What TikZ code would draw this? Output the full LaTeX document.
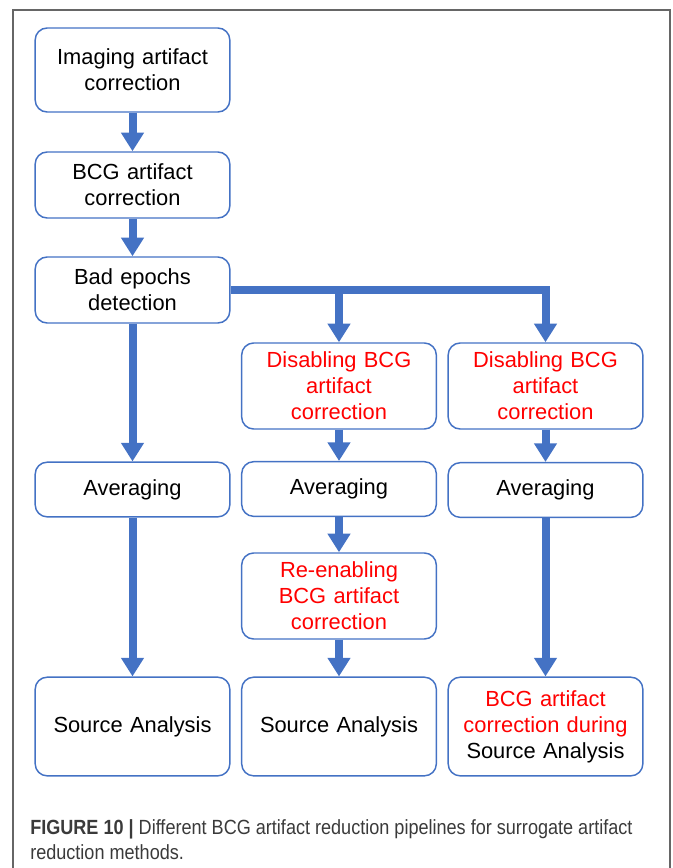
\documentclass[tikz,border=0pt]{standalone}
\usepackage{fontspec}
\setmainfont{Liberation Sans}
\newfontfamily\capfont[FakeStretch=0.88]{Liberation Sans}
\usepackage{xcolor}
\usetikzlibrary{arrows.meta}
\definecolor{flowblue}{HTML}{4472C4}
\definecolor{capgray}{HTML}{3A3A3A}

\begin{document}
\begin{tikzpicture}[x=0.75pt,y=-0.75pt,
  >={Triangle[width=16.5pt,length=14pt]},
  box/.style={draw=flowblue,line width=1.1pt,rounded corners=9pt,
    minimum width=146pt,text width=140pt,align=center,inner sep=0pt,
    font=\fontsize{16.4}{19.6}\selectfont},
  flow/.style={flowblue,line width=6pt}]
\useasboundingbox (0,0) rectangle (672,868);
\draw[gray!80!black,line width=0.8pt] (13,868) |- (670,10) -- (670,868);
% first column
\node[box,minimum height=63pt] (img) at (132.5,70) {Imaging artifact\\correction};
\node[box,minimum height=49.5pt] (bcg) at (132.5,185) {BCG artifact\\correction};
\node[box,minimum height=49.5pt] (bad) at (132.5,290) {Bad epochs\\detection};
\node[box,minimum height=41pt] (avgA) at (132.5,489.5) {Averaging};
\node[box,minimum height=74pt] (srcA) at (132.5,726.5) {Source Analysis};
% second column
\node[box,minimum height=64.5pt] (disA) at (339,386) {\color{red}Disabling BCG\\artifact\\correction};
\node[box,minimum height=41pt] (avgB) at (339,489) {Averaging};
\node[box,minimum height=64.5pt] (reen) at (339,596) {\color{red}Re-enabling\\BCG artifact\\correction};
\node[box,minimum height=74pt] (srcB) at (339,726.5) {Source Analysis};
% third column
\node[box,minimum height=64.5pt] (disB) at (545.5,386) {\color{red}Disabling BCG\\artifact\\correction};
\node[box,minimum height=41pt] (avgC) at (545.5,490) {Averaging};
\node[box,minimum height=74pt] (srcC) at (545.5,726.5) {{\color{red}BCG artifact\\correction during}\\Source Analysis};
% arrows
\draw[flow,->] (img) -- (bcg);
\draw[flow,->] (bcg) -- (bad);
\draw[flow,->] (bad) -- (avgA);
\draw[flow,->] (avgA) -- (srcA);
\draw[flow,->] (bad.east) -| (disB.north);
\draw[flow,->] (bad.east -| disA.north) -- (disA.north);
\draw[flow,->] (disA) -- (avgB);
\draw[flow,->] (avgB) -- (reen);
\draw[flow,->] (reen) -- (srcB);
\draw[flow,->] (disB) -- (avgC);
\draw[flow,->] (avgC) -- (srcC);
% caption
\node[anchor=north west,align=left,inner sep=0pt,text=capgray,
  font=\capfont\fontsize{15.4}{19}\selectfont] (cap) at (30,819)
  {{\bfseries FIGURE 10 |} Different BCG artifact reduction pipelines for surrogate artifact\\reduction methods.};
\end{tikzpicture}
\end{document}
